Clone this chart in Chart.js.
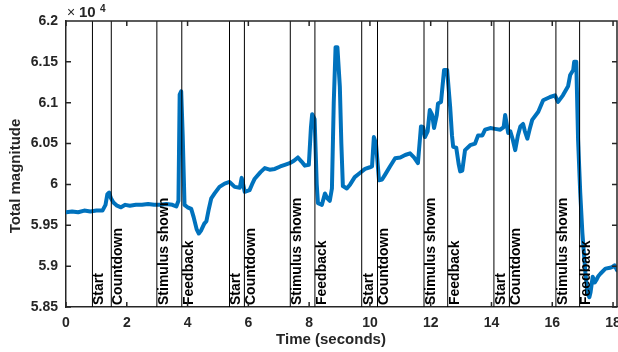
<!DOCTYPE html>
<html>
<head>
<meta charset="utf-8">
<script src="https://cdn.jsdelivr.net/npm/chart.js@4.4.1/dist/chart.umd.min.js"></script>
<style>
  body { margin: 0; background: #fff; }
  #wrap { width: 618px; height: 352px; }
</style>
</head>
<body>
<div id="wrap"><canvas id="magnitude" width="618" height="352"></canvas></div>
<script>
// time in seconds
const times = [
  0.00, 0.20, 0.40, 0.60, 0.80, 1.00, 1.20, 1.30, 1.36, 1.42, 1.48, 1.56, 1.68, 1.81, 1.95,
  2.10, 2.30, 2.50, 2.70, 2.90, 3.10, 3.30, 3.50, 3.63, 3.70, 3.74, 3.79, 3.84, 3.90, 4.00,
  4.12, 4.20, 4.30, 4.37, 4.45, 4.55, 4.62, 4.70, 4.78, 4.89, 5.05, 5.22, 5.38, 5.55, 5.72,
  5.78, 5.83, 5.88, 6.04, 6.12, 6.21, 6.40, 6.54, 6.70, 6.87, 7.05, 7.20, 7.36, 7.50, 7.63,
  7.75, 7.86, 7.99, 8.06, 8.10, 8.18, 8.25, 8.29, 8.42, 8.52, 8.60, 8.68, 8.75, 8.81, 8.87,
  8.93, 9.01, 9.06, 9.11, 9.24, 9.35, 9.50, 9.67, 9.84, 10.00, 10.07, 10.13, 10.20, 10.30, 10.40,
  10.50, 10.66, 10.83, 11.00, 11.16, 11.32, 11.45, 11.58, 11.68, 11.75, 11.81, 11.90, 11.97, 12.05, 12.11,
  12.20, 12.24, 12.34, 12.44, 12.54, 12.64, 12.70, 12.74, 12.84, 12.92, 12.97, 13.04, 13.13, 13.30, 13.46,
  13.56, 13.70, 13.79, 13.96, 14.12, 14.29, 14.40, 14.45, 14.55, 14.62, 14.70, 14.78, 14.87, 14.95, 15.04,
  15.10, 15.18, 15.26, 15.34, 15.54, 15.70, 15.93, 16.09, 16.19, 16.35, 16.52, 16.59, 16.69, 16.72, 16.79,
  16.85, 16.92, 16.99, 17.09, 17.16, 17.22, 17.26, 17.33, 17.40, 17.45, 17.52, 17.59, 17.75, 17.90, 17.98,
  18.05, 18.13
];
// total magnitude, in units of 10^4
const magnitude = [
  5.966, 5.967, 5.966, 5.968, 5.967, 5.968, 5.968, 5.975, 5.988, 5.990, 5.983, 5.978, 5.974, 5.972, 5.975,
  5.974, 5.975, 5.975, 5.976, 5.975, 5.975, 5.976, 5.975, 5.973, 5.980, 6.110, 6.114, 6.060, 5.975, 5.972,
  5.970, 5.960, 5.945, 5.940, 5.944, 5.952, 5.955, 5.970, 5.983, 5.989, 5.997, 6.001, 6.003, 5.997, 5.996,
  6.008, 6.000, 5.991, 5.993, 6.000, 6.007, 6.015, 6.020, 6.018, 6.019, 6.022, 6.024, 6.026, 6.029, 6.033,
  6.028, 6.023, 6.024, 6.070, 6.086, 6.080, 6.000, 5.977, 5.975, 5.989, 5.983, 5.980, 5.995, 6.100, 6.168,
  6.168, 6.120, 6.050, 5.998, 5.995, 6.000, 6.009, 6.014, 6.019, 6.021, 6.022, 6.058, 6.050, 6.005, 6.006,
  6.012, 6.022, 6.032, 6.033, 6.036, 6.038, 6.033, 6.026, 6.071, 6.070, 6.058, 6.065, 6.091, 6.085, 6.069,
  6.085, 6.099, 6.101, 6.140, 6.140, 6.095, 6.060, 6.046, 6.045, 6.025, 6.016, 6.017, 6.042, 6.048, 6.050,
  6.060, 6.060, 6.067, 6.069, 6.068, 6.067, 6.070, 6.085, 6.063, 6.065, 6.055, 6.042, 6.060, 6.071, 6.074,
  6.065, 6.056, 6.068, 6.079, 6.089, 6.103, 6.107, 6.109, 6.101, 6.109, 6.120, 6.134, 6.140, 6.150, 6.150,
  6.054, 5.990, 5.941, 5.892, 5.867, 5.862, 5.868, 5.887, 5.880, 5.883, 5.888, 5.891, 5.897, 5.898, 5.899,
  5.901, 5.895
];
// trial events
const eventTimes = [0.87, 1.49, 2.99, 3.81, 5.38, 5.87, 7.38, 8.19, 9.73, 10.25, 11.78, 12.56, 14.08, 14.59, 16.12, 16.90];
const eventLabels = ['Start', 'Countdown', 'Stimulus shown', 'Feedback',
  'Start', 'Countdown', 'Stimulus shown', 'Feedback',
  'Start', 'Countdown', 'Stimulus shown', 'Feedback',
  'Start', 'Countdown', 'Stimulus shown', 'Feedback'];
const xTicks = [0, 2, 4, 6, 8, 10, 12, 14, 16, 18];
const yTicks = [5.85, 5.9, 5.95, 6, 6.05, 6.1, 6.15, 6.2];
const yTickLabels = ['5.85', '5.9', '5.95', '6', '6.05', '6.1', '6.15', '6.2'];

const FONT = '"Liberation Sans", Arial, Helvetica, sans-serif';
const AXIS = '#262626';

let points = times.map(function (t, i) { return { x: t, y: magnitude[i] }; });

let datasets = [{
    data: points,
    showLine: true,
    borderColor: '#0072BD',
    borderWidth: 4,
    borderJoinStyle: 'round',
    borderCapStyle: 'round',
    pointRadius: 0,
    order: 1
}];
// one dataset per event line, bottom to top of the y range
eventTimes.forEach(function (t) {
    datasets.push({
        data: [{ x: t, y: yTicks[0] }, { x: t, y: yTicks[yTicks.length - 1] }],
        showLine: true,
        borderColor: '#000000',
        borderWidth: 1,
        pointRadius: 0,
        order: 0
    });
});

// event labels, box, inward ticks, exponent and axis titles
const decorations = {
    id: 'decorations',
    afterDatasetsDraw(chart) {
        const { ctx, chartArea: a, scales: { x, y } } = chart;
        ctx.save();

        ctx.font = 'bold 14px ' + FONT;
        ctx.fillStyle = '#000';
        ctx.textAlign = 'left';
        ctx.textBaseline = 'top';
        eventTimes.forEach(function (t, i) {
            let px = x.getPixelForValue(t);
            ctx.save();
            ctx.translate(px, a.bottom - 2);
            ctx.rotate(-Math.PI / 2);
            ctx.fillText(eventLabels[i], 0, 0);
            ctx.restore();
        });

        ctx.strokeStyle = AXIS;
        ctx.lineWidth = 1.5;
        ctx.beginPath();
        ctx.moveTo(a.left, a.top);
        ctx.lineTo(a.right, a.top);
        ctx.lineTo(a.right, a.bottom);
        xTicks.forEach(function (v) {
            let px = x.getPixelForValue(v);
            ctx.moveTo(px, a.bottom);
            ctx.lineTo(px, a.bottom - 5);
            ctx.moveTo(px, a.top);
            ctx.lineTo(px, a.top + 5);
        });
        yTicks.forEach(function (v) {
            let py = y.getPixelForValue(v);
            ctx.moveTo(a.left, py);
            ctx.lineTo(a.left + 5, py);
            ctx.moveTo(a.right, py);
            ctx.lineTo(a.right - 5, py);
        });
        ctx.stroke();

        ctx.fillStyle = AXIS;
        ctx.textBaseline = 'alphabetic';
        ctx.font = '14px ' + FONT;
        ctx.fillText('\u00d7', 67, 17);
        ctx.font = 'bold 15px ' + FONT;
        ctx.fillText('10', 79, 17);
        ctx.font = 'bold 10px ' + FONT;
        ctx.fillText('4', 100, 12);

        ctx.font = 'bold 15px ' + FONT;
        ctx.textAlign = 'center';
        ctx.textBaseline = 'middle';
        ctx.fillText('Time (seconds)', 331, 340);
        ctx.save();
        ctx.translate(16, 176);
        ctx.rotate(-Math.PI / 2);
        ctx.fillText('Total magnitude', 0, 0);
        ctx.restore();

        ctx.restore();
    }
};

let ctx = document.getElementById('magnitude').getContext('2d');
let chart = new Chart(ctx, {
    type: 'scatter',
    data: { datasets: datasets },
    options: {
        responsive: false,
        animation: false,
        layout: { padding: { top: 21, right: 1, left: 0, bottom: 0 } },
        plugins: {
            legend: { display: false },
            tooltip: { enabled: false }
        },
        scales: {
            x: {
                type: 'linear',
                min: 0,
                max: 18.13,
                afterBuildTicks: function (s) { s.ticks = xTicks.map(function (v) { return { value: v }; }); },
                afterFit: function (s) { s.height = 45; s.paddingLeft = 0; s.paddingRight = 0; },
                grid: { display: false, drawTicks: false },
                border: { color: AXIS, width: 1.5 },
                ticks: {
                    color: AXIS,
                    padding: 8,
                    maxRotation: 0,
                    autoSkip: false,
                    font: { family: FONT, size: 14, weight: 'bold' }
                }
            },
            y: {
                type: 'linear',
                min: 5.85,
                max: 6.2,
                afterBuildTicks: function (s) { s.ticks = yTicks.map(function (v) { return { value: v }; }); },
                afterFit: function (s) { s.width = 66; s.paddingTop = 0; s.paddingBottom = 0; },
                grid: { display: false, drawTicks: false },
                border: { color: AXIS, width: 1.5 },
                ticks: {
                    color: AXIS,
                    padding: 8,
                    autoSkip: false,
                    font: { family: FONT, size: 14, weight: 'bold' },
                    callback: function (value, index) { return yTickLabels[index]; }
                }
            }
        }
    },
    plugins: [decorations]
});
</script>
</body>
</html>
